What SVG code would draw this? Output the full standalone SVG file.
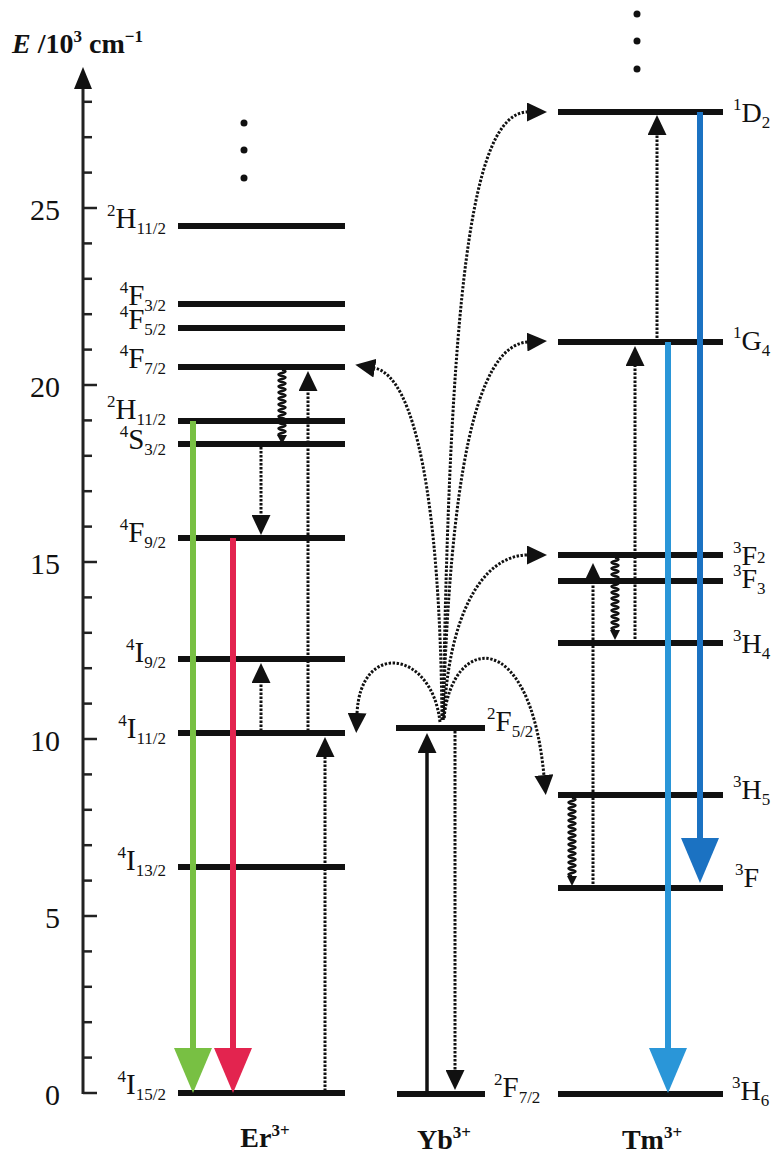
<svg xmlns="http://www.w3.org/2000/svg" width="776" height="1153" viewBox="0 0 776 1153">
<style>
text{font-family:"Liberation Serif","Times New Roman",serif;fill:#111}
.num{font-size:30px;text-anchor:end}
.lv{font-size:29px}
.s{font-size:17px}
.ion{font-size:28px;font-weight:bold;text-anchor:middle}
.level{stroke:#111;stroke-width:6}
.tick{stroke:#222;stroke-width:2.5}
.dot{stroke:#111;stroke-width:3;stroke-dasharray:2.4 1.6;fill:none}
.wav{stroke:#111;stroke-width:2.4;fill:none}
</style>
<defs>
<marker id="ah" viewBox="0 0 20 19" refX="1" refY="9.5" markerWidth="20" markerHeight="19" orient="auto" markerUnits="userSpaceOnUse"><path d="M0,0 L20,9.5 L0,19 z" fill="#111"/></marker>
<marker id="bg" viewBox="0 0 45 38" refX="2" refY="19" markerWidth="45" markerHeight="38" orient="auto" markerUnits="userSpaceOnUse"><path d="M0,0 L45,19 L0,38 z" fill="#78c043"/></marker>
<marker id="br" viewBox="0 0 45 38" refX="2" refY="19" markerWidth="45" markerHeight="38" orient="auto" markerUnits="userSpaceOnUse"><path d="M0,0 L45,19 L0,38 z" fill="#e3244f"/></marker>
<marker id="bd" viewBox="0 0 45 38" refX="2" refY="19" markerWidth="45" markerHeight="38" orient="auto" markerUnits="userSpaceOnUse"><path d="M0,0 L45,19 L0,38 z" fill="#1b72c2"/></marker>
<marker id="bl" viewBox="0 0 45 38" refX="2" refY="19" markerWidth="45" markerHeight="38" orient="auto" markerUnits="userSpaceOnUse"><path d="M0,0 L45,19 L0,38 z" fill="#2a96d8"/></marker>
</defs>

<g id="axis">
<line x1="83" y1="1094" x2="83" y2="86" stroke="#222" stroke-width="3"/>
<polygon points="74,89 92,89 83,67" fill="#111"/>
<g class="tick">
<line x1="83" y1="1093" x2="97" y2="1093"/><line x1="83" y1="1057.6" x2="92" y2="1057.6"/><line x1="83" y1="1022.2" x2="92" y2="1022.2"/><line x1="83" y1="986.8" x2="92" y2="986.8"/><line x1="83" y1="951.4" x2="92" y2="951.4"/>
<line x1="83" y1="916" x2="97" y2="916"/><line x1="83" y1="880.6" x2="92" y2="880.6"/><line x1="83" y1="845.2" x2="92" y2="845.2"/><line x1="83" y1="809.8" x2="92" y2="809.8"/><line x1="83" y1="774.4" x2="92" y2="774.4"/>
<line x1="83" y1="739" x2="97" y2="739"/><line x1="83" y1="703.6" x2="92" y2="703.6"/><line x1="83" y1="668.2" x2="92" y2="668.2"/><line x1="83" y1="632.8" x2="92" y2="632.8"/><line x1="83" y1="597.4" x2="92" y2="597.4"/>
<line x1="83" y1="562" x2="97" y2="562"/><line x1="83" y1="526.6" x2="92" y2="526.6"/><line x1="83" y1="491.2" x2="92" y2="491.2"/><line x1="83" y1="455.8" x2="92" y2="455.8"/><line x1="83" y1="420.4" x2="92" y2="420.4"/>
<line x1="83" y1="385" x2="97" y2="385"/><line x1="83" y1="349.6" x2="92" y2="349.6"/><line x1="83" y1="314.2" x2="92" y2="314.2"/><line x1="83" y1="278.8" x2="92" y2="278.8"/><line x1="83" y1="243.4" x2="92" y2="243.4"/>
<line x1="83" y1="208" x2="97" y2="208"/><line x1="83" y1="172.6" x2="92" y2="172.6"/><line x1="83" y1="137.2" x2="92" y2="137.2"/><line x1="83" y1="101.8" x2="92" y2="101.8"/>
</g>
<text class="num" x="60" y="1105">0</text>
<text class="num" x="60" y="928">5</text>
<text class="num" x="60" y="751">10</text>
<text class="num" x="60" y="574">15</text>
<text class="num" x="60" y="397">20</text>
<text class="num" x="60" y="220">25</text>
<text x="12" y="53" style="font-size:28px;font-weight:bold"><tspan font-style="italic">E</tspan> /10<tspan style="font-size:17px" dy="-11">3</tspan><tspan dy="11"> cm</tspan><tspan style="font-size:17px" dy="-11">−1</tspan></text>
</g>

<g id="er">
<line class="level" x1="178" y1="226" x2="345" y2="226"/>
<line class="level" x1="178" y1="304" x2="345" y2="304"/>
<line class="level" x1="178" y1="328" x2="345" y2="328"/>
<line class="level" x1="178" y1="367" x2="345" y2="367"/>
<line class="level" x1="178" y1="421" x2="345" y2="421"/>
<line class="level" x1="178" y1="444" x2="345" y2="444"/>
<line class="level" x1="178" y1="538" x2="345" y2="538"/>
<line class="level" x1="178" y1="659" x2="345" y2="659"/>
<line class="level" x1="178" y1="733" x2="345" y2="733"/>
<line class="level" x1="178" y1="867" x2="345" y2="867"/>
<line class="level" x1="178" y1="1093" x2="345" y2="1093"/>
<circle cx="244" cy="123" r="3.5" fill="#111"/><circle cx="244" cy="150" r="3.5" fill="#111"/><circle cx="244" cy="178" r="3.5" fill="#111"/>
<text class="lv" x="166" y="228" text-anchor="end"><tspan class="s" dy="-12">2</tspan><tspan dy="12">H</tspan><tspan class="s" dy="6">11/2</tspan></text>
<text class="lv" x="166" y="305" text-anchor="end"><tspan class="s" dy="-12">4</tspan><tspan dy="12">F</tspan><tspan class="s" dy="6">3/2</tspan></text>
<text class="lv" x="166" y="329" text-anchor="end"><tspan class="s" dy="-12">4</tspan><tspan dy="12">F</tspan><tspan class="s" dy="6">5/2</tspan></text>
<text class="lv" x="166" y="368" text-anchor="end"><tspan class="s" dy="-12">4</tspan><tspan dy="12">F</tspan><tspan class="s" dy="6">7/2</tspan></text>
<text class="lv" x="166" y="419" text-anchor="end"><tspan class="s" dy="-12">2</tspan><tspan dy="12">H</tspan><tspan class="s" dy="6">11/2</tspan></text>
<text class="lv" x="166" y="449" text-anchor="end"><tspan class="s" dy="-12">4</tspan><tspan dy="12">S</tspan><tspan class="s" dy="6">3/2</tspan></text>
<text class="lv" x="166" y="542" text-anchor="end"><tspan class="s" dy="-12">4</tspan><tspan dy="12">F</tspan><tspan class="s" dy="6">9/2</tspan></text>
<text class="lv" x="166" y="662" text-anchor="end"><tspan class="s" dy="-12">4</tspan><tspan dy="12">I</tspan><tspan class="s" dy="6">9/2</tspan></text>
<text class="lv" x="166" y="738" text-anchor="end"><tspan class="s" dy="-12">4</tspan><tspan dy="12">I</tspan><tspan class="s" dy="6">11/2</tspan></text>
<text class="lv" x="166" y="870" text-anchor="end"><tspan class="s" dy="-12">4</tspan><tspan dy="12">I</tspan><tspan class="s" dy="6">13/2</tspan></text>
<text class="lv" x="166" y="1094" text-anchor="end"><tspan class="s" dy="-12">4</tspan><tspan dy="12">I</tspan><tspan class="s" dy="6">15/2</tspan></text>
<text class="ion" x="265" y="1147">Er<tspan style="font-size:17px" dy="-11">3+</tspan></text>
</g>

<g id="yb">
<line class="level" x1="396" y1="728" x2="485" y2="728"/>
<line class="level" x1="397" y1="1094" x2="485" y2="1094"/>
<text class="lv" x="487" y="731"><tspan class="s" dy="-12">2</tspan><tspan dy="12">F</tspan><tspan class="s" dy="6">5/2</tspan></text>
<text class="lv" x="494" y="1097"><tspan class="s" dy="-12">2</tspan><tspan dy="12">F</tspan><tspan class="s" dy="6">7/2</tspan></text>
<text class="ion" x="444" y="1149">Yb<tspan style="font-size:17px" dy="-11">3+</tspan></text>
</g>

<g id="tm">
<line class="level" x1="558" y1="112" x2="723" y2="112"/>
<line class="level" x1="558" y1="342" x2="723" y2="342"/>
<line class="level" x1="558" y1="555" x2="723" y2="555"/>
<line class="level" x1="558" y1="581" x2="723" y2="581"/>
<line class="level" x1="558" y1="643" x2="723" y2="643"/>
<line class="level" x1="558" y1="795" x2="723" y2="795"/>
<line class="level" x1="558" y1="888" x2="723" y2="888"/>
<line class="level" x1="558" y1="1094" x2="723" y2="1094"/>
<circle cx="637" cy="14" r="3.5" fill="#111"/><circle cx="637" cy="41" r="3.5" fill="#111"/><circle cx="637" cy="69" r="3.5" fill="#111"/>
<text class="lv" x="733" y="122" style="font-size:28px"><tspan class="s" dy="-12">1</tspan><tspan dy="12">D</tspan><tspan class="s" dy="6">2</tspan></text>
<text class="lv" x="733" y="350" style="font-size:28px"><tspan class="s" dy="-12">1</tspan><tspan dy="12">G</tspan><tspan class="s" dy="6">4</tspan></text>
<text class="lv" x="733" y="565" style="font-size:28px"><tspan class="s" dy="-12">3</tspan><tspan dy="12">F</tspan><tspan class="s" dy="-2">2</tspan></text>
<text class="lv" x="733" y="588" style="font-size:28px"><tspan class="s" dy="-12">3</tspan><tspan dy="12">F</tspan><tspan class="s" dy="6">3</tspan></text>
<text class="lv" x="733" y="653" style="font-size:28px"><tspan class="s" dy="-12">3</tspan><tspan dy="12">H</tspan><tspan class="s" dy="6">4</tspan></text>
<text class="lv" x="733" y="799" style="font-size:28px"><tspan class="s" dy="-12">3</tspan><tspan dy="12">H</tspan><tspan class="s" dy="6">5</tspan></text>
<text class="lv" x="735" y="887" style="font-size:28px"><tspan class="s" dy="-12">3</tspan><tspan dy="12">F</tspan></text>
<text class="lv" x="732" y="1100" style="font-size:28px"><tspan class="s" dy="-12">3</tspan><tspan dy="12">H</tspan><tspan class="s" dy="6">6</tspan></text>
<text class="ion" x="652" y="1149">Tm<tspan style="font-size:17px" dy="-11">3+</tspan></text>
</g>

<g id="connectors">
<line x1="193" y1="421" x2="193" y2="1050" stroke="#78c043" stroke-width="6" marker-end="url(#bg)"/>
<line x1="233" y1="538" x2="233" y2="1050" stroke="#e3244f" stroke-width="6" marker-end="url(#br)"/>
<line x1="700" y1="112" x2="700" y2="840" stroke="#1b72c2" stroke-width="6" marker-end="url(#bd)"/>
<line x1="668" y1="342" x2="668" y2="1050" stroke="#2a96d8" stroke-width="6" marker-end="url(#bl)"/>

<line class="dot" x1="325" y1="1091" x2="325" y2="756" marker-end="url(#ah)"/>
<line class="dot" x1="261" y1="731" x2="261" y2="682" marker-end="url(#ah)"/>
<line class="dot" x1="308" y1="731" x2="308" y2="390" marker-end="url(#ah)"/>
<line class="dot" x1="261" y1="447" x2="261" y2="516" marker-end="url(#ah)"/>
<line x1="427" y1="1094" x2="427" y2="752" stroke="#111" stroke-width="3.5" marker-end="url(#ah)"/>
<line class="dot" x1="455" y1="731" x2="455" y2="1071" marker-end="url(#ah)"/>
<line class="dot" x1="657" y1="342" x2="657" y2="134" marker-end="url(#ah)"/>
<line class="dot" x1="635" y1="643" x2="635" y2="365" marker-end="url(#ah)"/>
<line class="dot" x1="593" y1="888" x2="593" y2="582" marker-end="url(#ah)"/>

<path class="dot" d="M442,720 C440,500 415,375 374,368" marker-end="url(#ah)"/>
<path class="dot" d="M443,720 C450,300 470,112 528,112" marker-end="url(#ah)"/>
<path class="dot" d="M443,720 C450,480 475,345 528,342" marker-end="url(#ah)"/>
<path class="dot" d="M444,718 C448,620 480,555 528,555" marker-end="url(#ah)"/>
<path class="dot" d="M440,722 C432,650 360,640 357,714" marker-end="url(#ah)"/>
<path class="dot" d="M444,718 C452,635 530,625 544,776" marker-end="url(#ah)"/>

<path class="wav" d="M282,370 q7,1.5 0,3 q-7,1.5 0,3 q7,1.5 0,3 q-7,1.5 0,3 q7,1.5 0,3 q-7,1.5 0,3 q7,1.5 0,3 q-7,1.5 0,3 q7,1.5 0,3 q-7,1.5 0,3 q7,1.5 0,3 q-7,1.5 0,3 q7,1.5 0,3 q-7,1.5 0,3 q7,1.5 0,3 q-7,1.5 0,3 q7,1.5 0,3 q-7,1.5 0,3 q7,1.5 0,3 q-7,1.5 0,3 q7,1.5 0,3 q-7,1.5 0,3"/>
<polygon points="277,435 287,435 282,444" fill="#111"/>
<path class="wav" d="M615,558 q7,1.5 0,3 q-7,1.5 0,3 q7,1.5 0,3 q-7,1.5 0,3 q7,1.5 0,3 q-7,1.5 0,3 q7,1.5 0,3 q-7,1.5 0,3 q7,1.5 0,3 q-7,1.5 0,3 q7,1.5 0,3 q-7,1.5 0,3 q7,1.5 0,3 q-7,1.5 0,3 q7,1.5 0,3 q-7,1.5 0,3 q7,1.5 0,3 q-7,1.5 0,3 q7,1.5 0,3 q-7,1.5 0,3 q7,1.5 0,3 q-7,1.5 0,3 q7,1.5 0,3 q-7,1.5 0,3"/>
<polygon points="610,630 620,630 615,640" fill="#111"/>
<path class="wav" d="M572,798 q7,1.5 0,3 q-7,1.5 0,3 q7,1.5 0,3 q-7,1.5 0,3 q7,1.5 0,3 q-7,1.5 0,3 q7,1.5 0,3 q-7,1.5 0,3 q7,1.5 0,3 q-7,1.5 0,3 q7,1.5 0,3 q-7,1.5 0,3 q7,1.5 0,3 q-7,1.5 0,3 q7,1.5 0,3 q-7,1.5 0,3 q7,1.5 0,3 q-7,1.5 0,3 q7,1.5 0,3 q-7,1.5 0,3 q7,1.5 0,3 q-7,1.5 0,3 q7,1.5 0,3 q-7,1.5 0,3 q7,1.5 0,3 q-7,1.5 0,3"/>
<polygon points="567,876 577,876 572,886" fill="#111"/>
</g>
</svg>
